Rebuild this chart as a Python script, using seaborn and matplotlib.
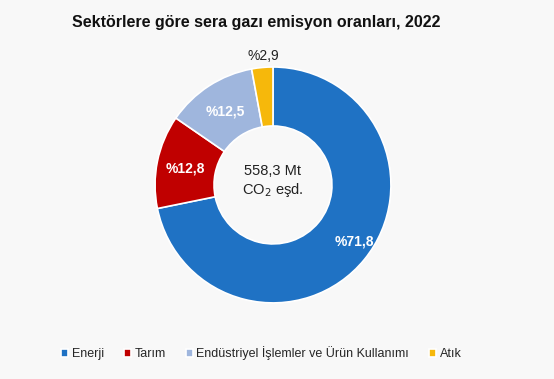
import matplotlib
matplotlib.use("Agg")
import matplotlib.pyplot as plt
import seaborn as sns

sectors = ["Enerji", "Tarım", "Endüstriyel İşlemler ve Ürün Kullanımı", "Atık"]
shares = [71.8, 12.8, 12.5, 2.9]
labels = ["%71,8", "%12,8", "%12,5", "%2,9"]
colors = ["#1f72c4", "#c00000", "#9fb6dd", "#f6b80b"]

sns.set_theme(style="white")
plt.rcParams["font.family"] = ["Liberation Sans", "DejaVu Sans"]
bg = "#f8f8f8"

fig = plt.figure(figsize=(5.54, 3.79), dpi=100, facecolor=bg)
ax = fig.add_axes([0.2265, 0.123, 0.5325, 0.778])
ax.set_facecolor(bg)

wedges, _ = ax.pie(shares, colors=colors, startangle=90, counterclock=False,
                   wedgeprops=dict(width=0.5, edgecolor="white", linewidth=1.2))
ax.set_xlim(-1.25, 1.25)
ax.set_ylim(-1.25, 1.25)
ax.set_aspect("equal")

# percentage labels
label_pos = [(0.69, -0.48), (-0.74, 0.14), (-0.40, 0.62), (-0.085, 1.09)]
for (x, y), txt, i in zip(label_pos, labels, range(len(labels))):
    if i < 3:
        ax.text(x, y, txt, ha="center", va="center", color="white",
                fontsize=10, fontweight="bold")
    else:
        ax.text(x, y, txt, ha="center", va="center", color="#222222", fontsize=10)

ax.text(0, 0.03, "558,3 Mt\nCO$_2$ eşd.", ha="center", va="center",
        fontsize=10.5, color="#222222", linespacing=1.2)

fig.text(0.462, 0.94, "Sektörlere göre sera gazı emisyon oranları, 2022",
         ha="center", va="center", fontsize=11.5, fontweight="bold", color="#111111")

fig.legend(wedges, sectors, loc="center", bbox_to_anchor=(0.472, 0.068), ncol=4,
           frameon=False, fontsize=9, handlelength=0.55, handleheight=0.55,
           handletextpad=0.3, columnspacing=1.6)

fig.savefig("out.png", dpi=100, facecolor=bg)
